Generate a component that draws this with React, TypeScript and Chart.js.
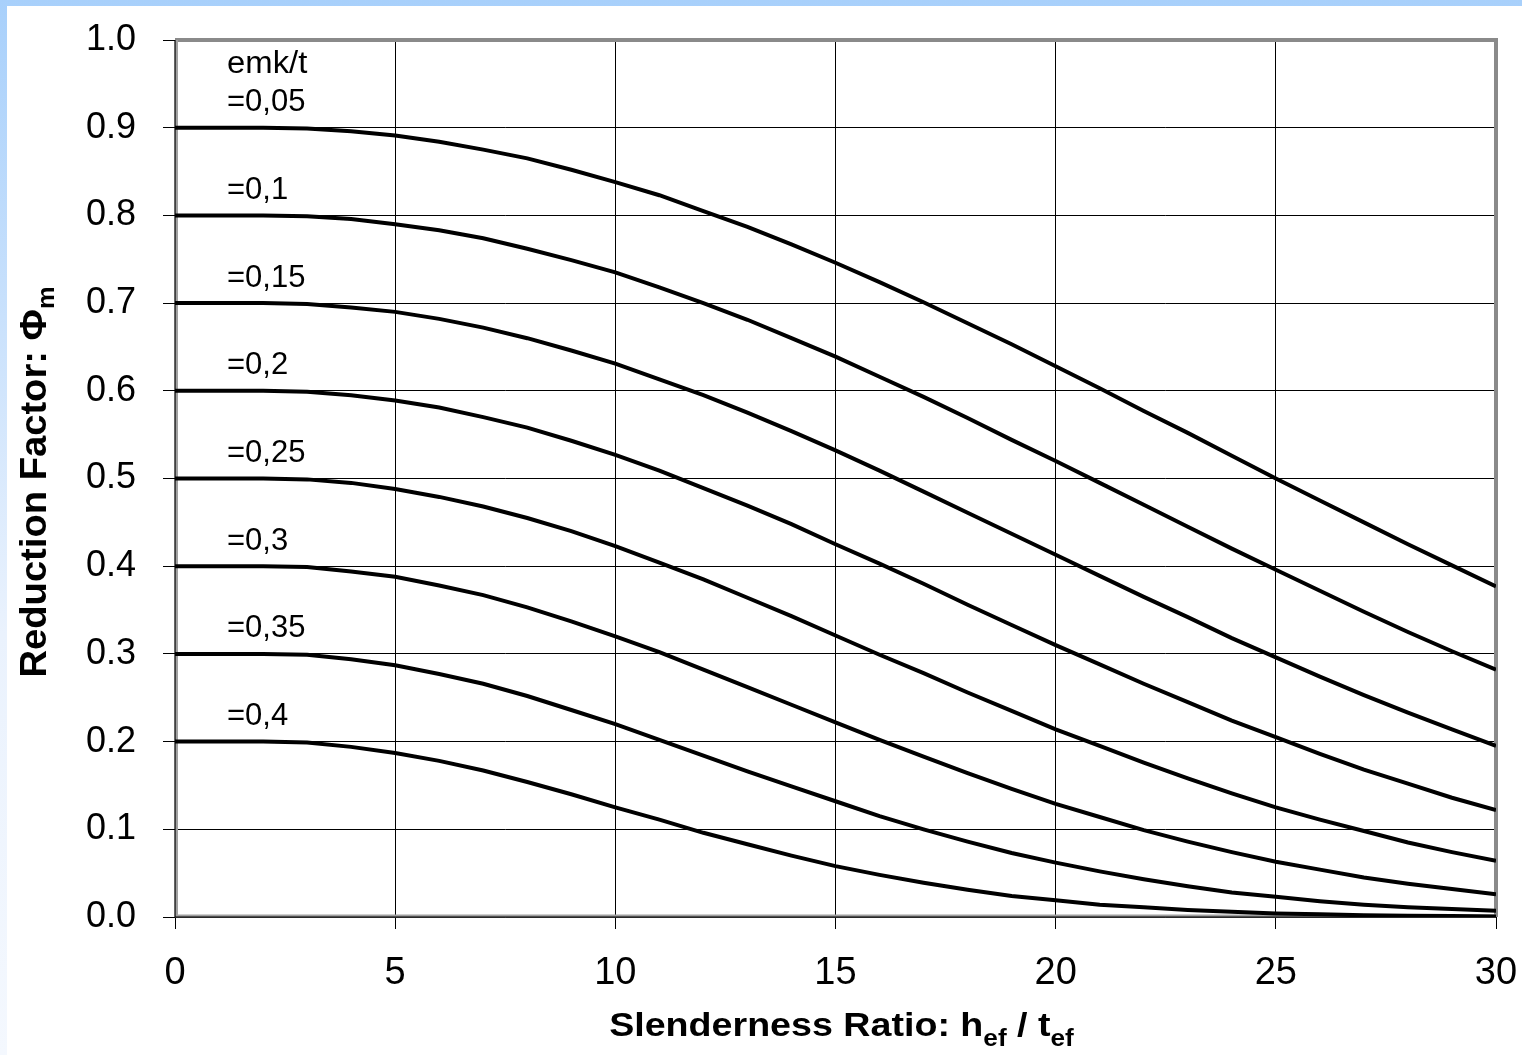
import React, { useEffect, useRef } from "react";
import { Chart, registerables } from "chart.js";

Chart.register(...registerables);

// Slenderness ratio h_ef / t_ef (x values)
const slenderness = [0, 1, 2, 3, 4, 5, 6, 7, 8, 9, 10, 11, 12, 13, 14, 15, 16, 17, 18, 19, 20, 21, 22, 23, 24, 25, 26, 27, 28, 29, 30];

// Reduction factor Phi_m for each emk/t
const phiE005 = [0.900, 0.900, 0.900, 0.899, 0.896, 0.891, 0.884, 0.875, 0.865, 0.852, 0.838, 0.823, 0.805, 0.787, 0.767, 0.746, 0.724, 0.701, 0.677, 0.653, 0.628, 0.603, 0.577, 0.552, 0.526, 0.500, 0.475, 0.450, 0.425, 0.401, 0.377];
const phiE010 = [0.800, 0.800, 0.800, 0.799, 0.796, 0.790, 0.783, 0.774, 0.762, 0.749, 0.735, 0.718, 0.700, 0.681, 0.660, 0.639, 0.616, 0.593, 0.569, 0.544, 0.520, 0.495, 0.470, 0.445, 0.420, 0.396, 0.372, 0.348, 0.325, 0.303, 0.282];
const phiE015 = [0.700, 0.700, 0.700, 0.699, 0.695, 0.690, 0.682, 0.672, 0.660, 0.646, 0.631, 0.613, 0.595, 0.575, 0.554, 0.532, 0.509, 0.485, 0.461, 0.437, 0.413, 0.389, 0.365, 0.342, 0.318, 0.296, 0.274, 0.253, 0.233, 0.214, 0.195];
const phiE020 = [0.600, 0.600, 0.600, 0.599, 0.595, 0.589, 0.581, 0.570, 0.558, 0.543, 0.527, 0.509, 0.489, 0.469, 0.448, 0.425, 0.403, 0.380, 0.356, 0.333, 0.310, 0.288, 0.266, 0.245, 0.224, 0.205, 0.186, 0.168, 0.152, 0.136, 0.122];
const phiE025 = [0.500, 0.500, 0.500, 0.499, 0.495, 0.488, 0.479, 0.468, 0.455, 0.440, 0.423, 0.404, 0.385, 0.364, 0.343, 0.321, 0.299, 0.278, 0.256, 0.235, 0.214, 0.195, 0.176, 0.158, 0.141, 0.125, 0.111, 0.098, 0.085, 0.074, 0.064];
const phiE030 = [0.400, 0.400, 0.400, 0.399, 0.394, 0.388, 0.378, 0.367, 0.353, 0.337, 0.320, 0.302, 0.282, 0.262, 0.242, 0.222, 0.202, 0.183, 0.164, 0.146, 0.129, 0.114, 0.099, 0.086, 0.074, 0.063, 0.054, 0.045, 0.038, 0.032, 0.026];
const phiE035 = [0.300, 0.300, 0.300, 0.299, 0.294, 0.287, 0.277, 0.266, 0.252, 0.236, 0.220, 0.202, 0.184, 0.166, 0.149, 0.132, 0.115, 0.100, 0.086, 0.073, 0.062, 0.052, 0.043, 0.035, 0.028, 0.023, 0.018, 0.014, 0.011, 0.009, 0.007];
const phiE040 = [0.200, 0.200, 0.200, 0.199, 0.194, 0.187, 0.178, 0.167, 0.154, 0.140, 0.125, 0.111, 0.096, 0.083, 0.070, 0.058, 0.048, 0.039, 0.031, 0.024, 0.019, 0.014, 0.011, 0.008, 0.006, 0.004, 0.003, 0.002, 0.0015, 0.001, 0.0007];

const seriesList = [phiE005, phiE010, phiE015, phiE020, phiE025, phiE030, phiE035, phiE040];
const curveLabels = ["=0,05", "=0,1", "=0,15", "=0,2", "=0,25", "=0,3", "=0,35", "=0,4"];
const headerLabel = "emk/t";

const xMin = 0;
const xMax = 30;
const xStep = 5;
const yMin = 0;
const yMax = 1;
const yStep = 0.1;

const FONT = "'Liberation Sans', Arial, Helvetica, sans-serif";

function drawStretched(ctx: CanvasRenderingContext2D, text: string, x: number, y: number, sx: number) {
  ctx.save();
  ctx.translate(x, y);
  ctx.scale(sx, 1);
  ctx.fillText(text, 0, 0);
  ctx.restore();
}

const decorPlugin = {
  id: "decor",
  beforeDatasetsDraw(chart: any) {
    const { ctx, chartArea } = chart;
    const { left, right, top, bottom } = chartArea;
    ctx.save();
    // grey frame
    ctx.strokeStyle = "#8a8a8a";
    ctx.lineWidth = 4;
    ctx.beginPath();
    ctx.moveTo(left, top);
    ctx.lineTo(right, top);
    ctx.lineTo(right, bottom);
    ctx.stroke();
    ctx.lineWidth = 3;
    ctx.strokeStyle = "#a0a0a0";
    ctx.beginPath();
    ctx.moveTo(left + 1.5, top);
    ctx.lineTo(left + 1.5, bottom - 1);
    ctx.lineTo(right, bottom - 1);
    ctx.stroke();
    // black axis lines
    ctx.strokeStyle = "#000";
    ctx.lineWidth = 1.2;
    ctx.beginPath();
    ctx.moveTo(left, top);
    ctx.lineTo(left, bottom);
    ctx.lineTo(right, bottom);
    ctx.stroke();
    ctx.restore();
  },
  afterDraw(chart: any) {
    const { ctx, chartArea, scales } = chart;
    const yScale = scales.y;
    ctx.save();
    ctx.fillStyle = "#000";
    // curve labels
    ctx.font = `31px ${FONT}`;
    ctx.textAlign = "left";
    ctx.textBaseline = "middle";
    const lx = chartArea.left + 52;
    let firstY = 0;
    seriesList.forEach((s, i) => {
      const py = yScale.getPixelForValue(s[0]) - 25;
      if (i === 0) firstY = py;
      drawStretched(ctx, curveLabels[i], lx, py, 1.0);
    });
    drawStretched(ctx, headerLabel, lx, firstY - 38, 1.06);

    // x axis title with subscripts
    ctx.textBaseline = "alphabetic";
    const mainFont = `bold 33px ${FONT}`;
    const subFont = `bold 23px ${FONT}`;
    const parts: [string, boolean][] = [
      ["Slenderness Ratio: h", false],
      ["ef", true],
      [" / t", false],
      ["ef", true],
    ];
    const sx = 1.14;
    let total = 0;
    parts.forEach(([t, sub]) => {
      ctx.font = sub ? subFont : mainFont;
      total += ctx.measureText(t).width * sx;
    });
    let cx = (chartArea.left + chartArea.right) / 2 + 6 - total / 2;
    const baseY = 1030;
    parts.forEach(([t, sub]) => {
      ctx.font = sub ? subFont : mainFont;
      drawStretched(ctx, t, cx, sub ? baseY + 10 : baseY, sx);
      cx += ctx.measureText(t).width * sx;
    });

    // y axis title (rotated)
    ctx.save();
    ctx.translate(39, 476);
    ctx.rotate(-Math.PI / 2);
    const yParts: [string, boolean][] = [
      ["Reduction Factor: \u03A6", false],
      ["m", true],
    ];
    const yMain = `bold 36px ${FONT}`;
    const ySub = `bold 24px ${FONT}`;
    const ysx = 1.06;
    let ytotal = 0;
    yParts.forEach(([t, sub]) => {
      ctx.font = sub ? ySub : yMain;
      ytotal += ctx.measureText(t).width * ysx;
    });
    let yx = -ytotal / 2;
    yParts.forEach(([t, sub]) => {
      ctx.font = sub ? ySub : yMain;
      drawStretched(ctx, t, yx, sub ? 8 : 0, ysx);
      yx += ctx.measureText(t).width * ysx;
    });
    ctx.restore();

    ctx.restore();
  },
};

const zeroPad = (scale: any) => {
  scale.paddingTop = 0;
  scale.paddingBottom = 0;
  scale.paddingLeft = 0;
  scale.paddingRight = 0;
};

export default function App() {
  const canvasRef = useRef<HTMLCanvasElement | null>(null);

  useEffect(() => {
    const canvas = canvasRef.current;
    if (!canvas) return;
    Chart.defaults.font.family = FONT;
    Chart.defaults.color = "#000";
    const datasets = seriesList.map((s, i) => ({
      label: curveLabels[i],
      data: s.map((v, j) => ({ x: slenderness[j], y: v })),
      borderColor: "#000",
      backgroundColor: "#000",
      borderWidth: 4,
      pointRadius: 0,
      tension: 0,
      fill: false,
    }));
    const chart = new Chart(canvas, {
      type: "line",
      data: { datasets },
      options: {
        animation: false,
        responsive: false,
        maintainAspectRatio: false,
        layout: { padding: { top: 34, right: 26, left: 0, bottom: 0 } },
        plugins: {
          legend: { display: false },
          tooltip: { enabled: false },
        },
        scales: {
          x: {
            type: "linear",
            min: xMin,
            max: xMax,
            afterFit: (scale: any) => {
              scale.height = 138;
              zeroPad(scale);
            },
            ticks: {
              stepSize: xStep,
              font: { size: 38 },
              color: "#000",
              padding: 22,
              maxRotation: 0,
            },
            grid: {
              color: "#000",
              lineWidth: 1,
              tickLength: 12,
              tickColor: "#000",
            },
            border: { display: false },
          },
          y: {
            type: "linear",
            min: yMin,
            max: yMax,
            afterFit: (scale: any) => {
              scale.width = 168;
              zeroPad(scale);
            },
            ticks: {
              stepSize: yStep,
              font: { size: 36 },
              color: "#000",
              padding: 27,
              callback: (v: any) => Number(v).toFixed(1),
            },
            grid: {
              color: "#000",
              lineWidth: 1,
              tickLength: 12,
              tickColor: "#000",
            },
            border: { display: false },
          },
        },
      },
      plugins: [decorPlugin],
    } as any);
    return () => chart.destroy();
  }, []);

  return (
    <div
      style={{
        position: "fixed",
        left: 0,
        top: 0,
        width: 1522,
        height: 1055,
        background: "linear-gradient(#a8d0fb, #c9e1fc 30%, #eaf2fd 60%, #f4f8fe)",
        overflow: "hidden",
      }}
    >
      <div
        style={{
          position: "absolute",
          left: 7,
          top: 6,
          width: 1515,
          height: 1049,
          background: "#fff",
        }}
      >
        <canvas
          ref={canvasRef}
          width={1515}
          height={1049}
          style={{ display: "block", width: 1515, height: 1049 }}
        />
      </div>
    </div>
  );
}
